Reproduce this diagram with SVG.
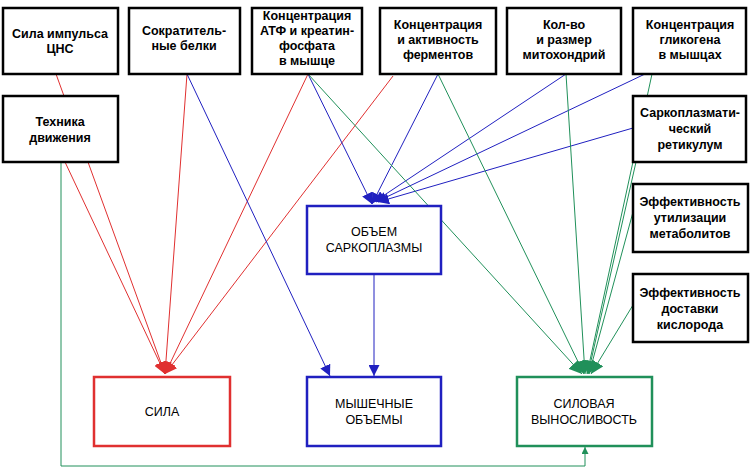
<svg xmlns="http://www.w3.org/2000/svg" width="750" height="476" viewBox="0 0 750 476">
<style>
.n rect{fill:#fff;stroke:#000;stroke-width:2.5}
text{font-family:"Liberation Sans",Arial,sans-serif;font-size:12.5px;font-weight:bold;text-anchor:middle}
.r{stroke:#e03030;fill:none;stroke-width:1}
.b{stroke:#2020c0;fill:none;stroke-width:1}
.g{stroke:#20905a;fill:none;stroke-width:1}
</style>
<defs>
<marker id="mr" viewBox="0 0 10 10" refX="10" refY="5" markerWidth="12" markerHeight="12" orient="auto" markerUnits="userSpaceOnUse"><path d="M0,0L10,5L0,10z" fill="#e03030"/></marker>
<marker id="mb" viewBox="0 0 10 10" refX="10" refY="5" markerWidth="11" markerHeight="11" orient="auto" markerUnits="userSpaceOnUse"><path d="M0,0L10,5L0,10z" fill="#2020c0"/></marker>
<marker id="mg" viewBox="0 0 10 10" refX="10" refY="5" markerWidth="13" markerHeight="13" orient="auto" markerUnits="userSpaceOnUse"><path d="M0,0L10,5L0,10z" fill="#20905a"/></marker>
<marker id="ms" viewBox="0 0 10 10" refX="10" refY="5" markerWidth="7" markerHeight="7" orient="auto" markerUnits="userSpaceOnUse"><path d="M0,0L10,5L0,10z" fill="#20905a"/></marker>
</defs>
<g id="connectors">
<path class="r" marker-end="url(#mr)" d="M56,74L165,374"/>
<path class="r" marker-end="url(#mr)" d="M65,162L165,374"/>
<path class="r" marker-end="url(#mr)" d="M187,74L165,374"/>
<path class="r" marker-end="url(#mr)" d="M308,74L165,374"/>
<path class="r" marker-end="url(#mr)" d="M393,76L165,374"/>
<path class="b" marker-end="url(#mb)" d="M187,74L330,376"/>
<path class="b" marker-end="url(#mb)" d="M308,74L372,204"/>
<path class="b" marker-end="url(#mb)" d="M438,74L372,204"/>
<path class="b" marker-end="url(#mb)" d="M566,74L374,202"/>
<path class="b" marker-end="url(#mb)" d="M645,74L376,202"/>
<path class="b" marker-end="url(#mb)" d="M633,128L378,202"/>
<path class="b" marker-end="url(#mb)" d="M374,274L374,376"/>
<path class="g" marker-end="url(#mg)" d="M308,74L582,374"/>
<path class="g" marker-end="url(#mg)" d="M438,74L584,374"/>
<path class="g" marker-end="url(#mg)" d="M566,74L585,374"/>
<path class="g" marker-end="url(#mg)" d="M652,74L587,374"/>
<path class="g" marker-end="url(#mg)" d="M636,162L588,374"/>
<path class="g" marker-end="url(#mg)" d="M633,212L589,374"/>
<path class="g" marker-end="url(#mg)" d="M633,305L591,374"/>
<path class="g" marker-end="url(#ms)" d="M61,162L61,466L585,466L585,447"/>
</g>
<g id="n1" class="n"><rect x="3" y="8" width="115" height="66"/><text x="60" y="38">Сила импульса</text><text x="60" y="53">ЦНС</text></g>
<g id="n2" class="n"><rect x="129" y="8" width="111" height="66"/><text x="184" y="35">Сократитель-</text><text x="184" y="50">ные белки</text></g>
<g id="n3" class="n"><rect x="252" y="8" width="110" height="66"/><text x="307" y="20">Концентрация</text><text x="307" y="35">АТФ и креатин-</text><text x="307" y="50">фосфата</text><text x="307" y="65">в мышце</text></g>
<g id="n4" class="n"><rect x="380" y="8" width="116" height="66"/><text x="438" y="29">Концентрация</text><text x="438" y="44">и активность</text><text x="438" y="59">ферментов</text></g>
<g id="n5" class="n"><rect x="507" y="8" width="114" height="66"/><text x="564" y="29">Кол-во</text><text x="564" y="44">и размер</text><text x="564" y="59">митохондрий</text></g>
<g id="n6" class="n"><rect x="633" y="8" width="113" height="66"/><text x="690" y="29">Концентрация</text><text x="690" y="44">гликогена</text><text x="690" y="59">в мышцах</text></g>
<g id="n7" class="n"><rect x="3" y="96" width="115" height="66"/><text x="60" y="126">Техника</text><text x="60" y="142">движения</text></g>
<g id="n8" class="n"><rect x="633" y="96" width="113" height="66"/><text x="690" y="117">Саркоплазмати-</text><text x="690" y="133">ческий</text><text x="690" y="149">ретикулум</text></g>
<g id="n9" class="n"><rect x="633" y="184" width="115" height="68"/><text x="690" y="206">Эффективность</text><text x="690" y="222">утилизации</text><text x="690" y="238">метаболитов</text></g>
<g id="n10" class="n"><rect x="633" y="274" width="115" height="68"/><text x="690" y="297">Эффективность</text><text x="690" y="313">доставки</text><text x="690" y="329">кислорода</text></g>
<g id="n11"><rect x="307" y="206" width="134" height="68" fill="#fff" stroke="#2020c0" stroke-width="2.5"/><text x="374" y="236" style="font-weight:normal">ОБЪЕМ</text><text x="374" y="252" style="font-weight:normal">САРКОПЛАЗМЫ</text></g>
<g id="n12"><rect x="94" y="377" width="136" height="69" fill="#fff" stroke="#e03030" stroke-width="2.5"/><text x="162" y="416" style="font-weight:normal">СИЛА</text></g>
<g id="n13"><rect x="307" y="377" width="134" height="69" fill="#fff" stroke="#2020c0" stroke-width="2.5"/><text x="374" y="408" style="font-weight:normal">МЫШЕЧНЫЕ</text><text x="374" y="424" style="font-weight:normal">ОБЪЕМЫ</text></g>
<g id="n14"><rect x="517" y="377" width="135" height="69" fill="#fff" stroke="#20905a" stroke-width="2.5"/><text x="584" y="408" style="font-weight:normal">СИЛОВАЯ</text><text x="584" y="424" style="font-weight:normal">ВЫНОСЛИВОСТЬ</text></g>
</svg>
